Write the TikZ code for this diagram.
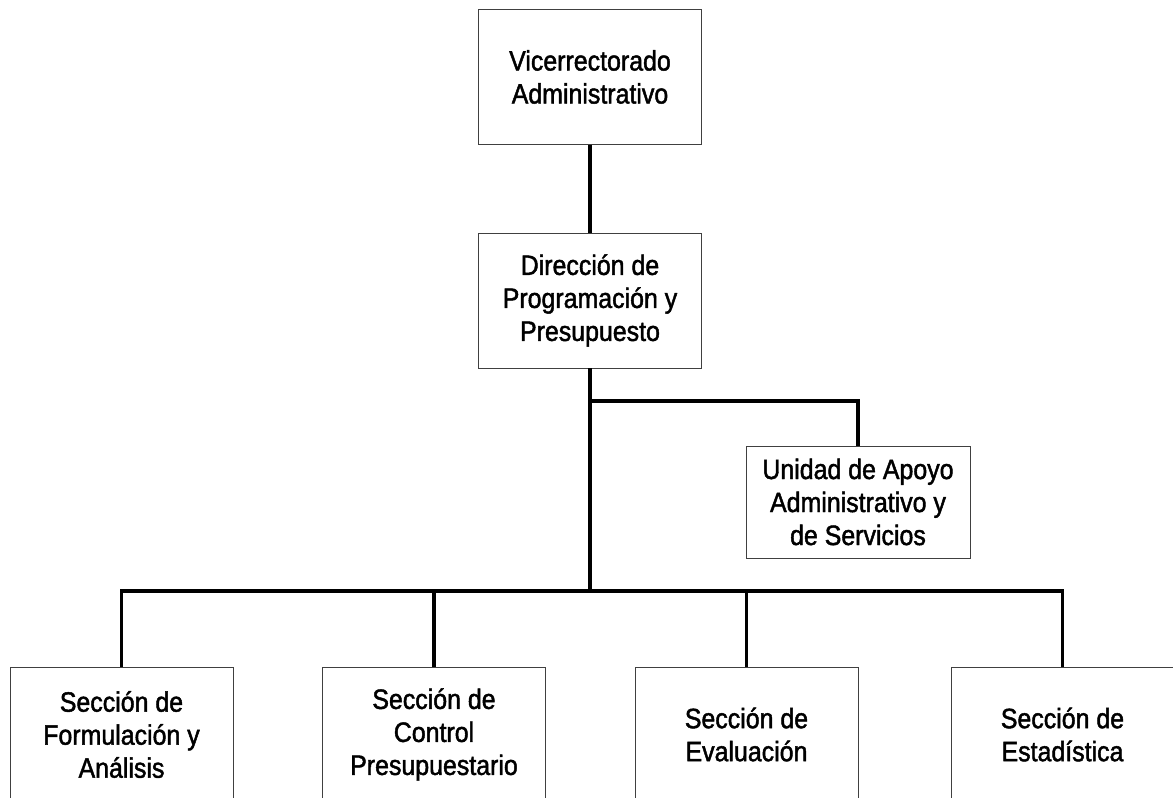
\documentclass[tikz,border=0pt]{standalone}
\usepackage{fontspec}
\setmainfont{Liberation Sans}[FakeStretch=0.89,FakeBold=1.6]
\usepackage{tikz}
\usetikzlibrary{positioning,calc}

\begin{document}
\begin{tikzpicture}[x=1pt,y=-1pt,
    box/.style={rectangle,draw=black!75,line width=0.8pt,minimum width=223pt,
      minimum height=135pt,inner sep=2pt,align=center,font=\fontsize{28}{33}\selectfont},
    small/.style={box,minimum width=224pt,minimum height=112pt},
    link/.style={line width=3.6pt}]
    \useasboundingbox (0,0) rectangle (1173,798);
    % top of the chart
    \node[box] (vra) at (590,77) {Vicerrectorado\\Administrativo};
    \node[box] (dpp) at (590,300.5) {Dirección de\\Programación y\\Presupuesto};
    \node[small] (uaa) at (858,502) {Unidad de Apoyo\\Administrativo y\\de Servicios};
    % sections
    \node[box] (sfa) at (121.5,734.5) {Sección de\\Formulación y\\Análisis};
    \node[box] (scp) at (434,734.5) {Sección de\\Control\\Presupuestario};
    \node[box] (sev) at (746.5,734.5) {Sección de\\Evaluación};
    \node[box] (ses) at (1062.5,734.5) {Sección de\\Estadística};
    \coordinate (split) at (590,401);
    \coordinate (bus) at (590,591);
    \draw[link] (vra) -- (dpp);
    \draw[link] (dpp) -- (bus);
    \draw[link] (split) -| (uaa);
    \draw[link] (sfa) |- (bus) -| (ses);
    \draw[link] (scp) -- (scp |- bus) (sev) -- (sev |- bus);
  \end{tikzpicture}
\end{document}
